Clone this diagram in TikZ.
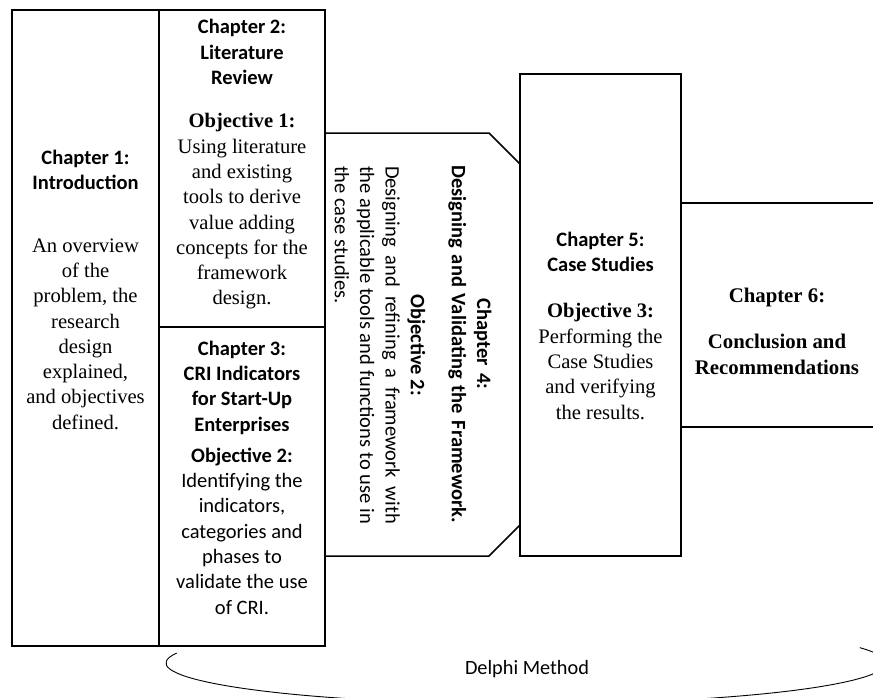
\documentclass[tikz,border=0pt]{standalone}
\usepackage{fontspec}
\setmainfont{Liberation Serif}
\newfontfamily\carlito{Carlito}
\begin{document}
\begin{tikzpicture}[x=1pt,y=-1pt,
  chapbox/.style={draw=black, line width=2pt, outer sep=0pt, inner sep=0pt, anchor=north west},
  sans/.style={font=\carlito\fontsize{20.5}{25.3}\selectfont, align=center, inner sep=0pt},
  sansbold/.style={sans, font=\carlito\bfseries\fontsize{20.5}{25.3}\selectfont},
  serif/.style={font=\fontsize{20.6}{25.3}\selectfont, align=center, inner sep=0pt},
  serifbold/.style={serif, font=\bfseries\fontsize{20.8}{25.3}\selectfont}]
\useasboundingbox (0,0) rectangle (873,697);
\clip (0,0) rectangle (873,697);

% chapter frames
\node[chapbox, minimum width=147pt, minimum height=636pt] (ch1box) at (12,10) {};
\node[chapbox, minimum width=166pt, minimum height=317pt] (ch2box) at (159,10) {};
\node[chapbox, minimum width=166pt, minimum height=319pt] (ch3box) at (159,327) {};
\node[chapbox, minimum width=209pt, minimum height=224pt] (ch6box) at (681,203) {};
\node[chapbox, minimum width=161pt, minimum height=482pt] (ch5box) at (520,74) {};

% chapter 4: chamfered panel between chapters 2/3 and 5
\coordinate (c4a) at (325,133);
\coordinate (c4b) at (489,133);
\coordinate (c4c) at (520,164);
\coordinate (c4d) at (520,525);
\coordinate (c4e) at (489,556);
\coordinate (c4f) at (325,556);
\draw[line width=1.5pt, line join=miter] (c4a) -- (c4b) -- (c4c) -- (c4d) -- (c4e) -- (c4f);

% chapter 1
\node[sansbold] (ch1title) at (85.5,170) {Chapter 1:\\Introduction};
\node[serif] (ch1text) at (85.5,334) {An overview\\of the\\problem, the\\research\\design\\explained,\\and objectives\\defined.};

% chapter 2
\node[sansbold] (ch2title) at (242,52) {Chapter 2:\\Literature\\Review};
\node[serif] (ch2text) at (242,211.5) {\textbf{Objective 1:}\\Using literature\\and existing\\tools to derive\\value adding\\concepts for the\\framework\\design.};

% chapter 3
\node[sansbold] (ch3title) at (242,387.5) {Chapter 3:\\CRI Indicators\\for Start-Up\\Enterprises};
\node[sans] (ch3text) at (242,531) {\textbf{Objective 2:}\\Identifying the\\indicators,\\categories and\\phases to\\validate the use\\of CRI.};

% chapter 4 (set sideways)
\node[sansbold, rotate=-90, text width=358pt] (ch4title) at (470,344) {Chapter 4:\\Designing and Validating the Framework.};
\node[sans, rotate=-90, text width=358pt, align=justify] (ch4text) at (380,345) {\centerline{\bfseries Objective 2:}\par Designing and refining a framework with\linebreak the applicable tools and functions to use in\linebreak the case studies.};

% chapter 5
\node[sansbold] (ch5title) at (600.5,252) {Chapter 5:\\Case Studies};
\node[serif] (ch5text) at (600.5,361.5) {\textbf{Objective 3:}\\Performing the\\Case Studies\\and verifying\\the results.};

% chapter 6
\node[serifbold] (ch6title) at (777,297) {Chapter 6:};
\node[serifbold] (ch6text) at (777,354.5) {Conclusion and\\Recommendations};

% Delphi loop
\coordinate (loopc) at (526,663);
\draw[line width=0.9pt] (loopc) ++(194:360 and 41) arc[start angle=194, end angle=-22, x radius=360, y radius=41];
\node[sans, font=\carlito\fontsize{20.3}{24}\selectfont] (delphi) at (527,669) {Delphi Method};
\end{tikzpicture}
\end{document}
